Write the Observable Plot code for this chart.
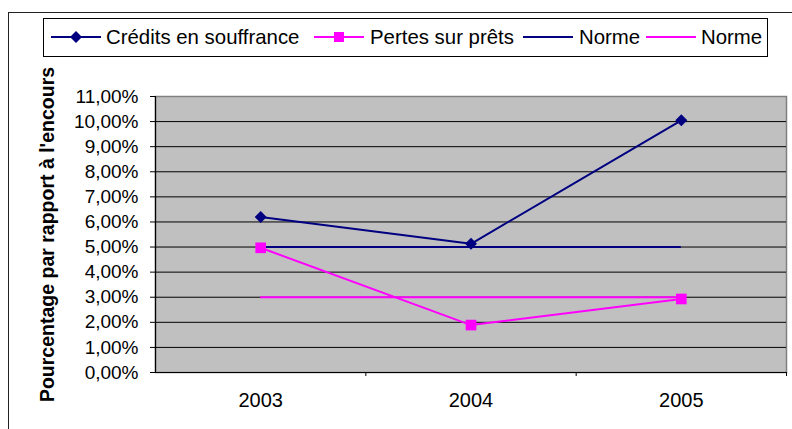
<!DOCTYPE html>
<html>
<head>
<meta charset="utf-8">
<script src="https://cdn.jsdelivr.net/npm/d3@7"></script>
<script src="https://cdn.jsdelivr.net/npm/@observablehq/plot@0.6"></script>
<style>
  html, body { margin: 0; padding: 0; background: #fff; overflow: hidden; }
  body { width: 792px; height: 429px; position: relative; font-family: "Liberation Sans", Arial, sans-serif; }
  #outer { position: absolute; left: 8px; top: 12px; width: 820px; height: 460px; border-left: 1.5px solid #222; border-top: 1.5px solid #222; }
  #legend { position: absolute; left: 43px; top: 18px; width: 723px; height: 37px; border: 1px solid #000; background: #fff; }
  .sw { position: absolute; top: 8px; }
  .lt { position: absolute; top: 7px; font-size: 20.4px; line-height: 22px; color: #000; white-space: nowrap; }
  #chart { position: absolute; left: 0; top: 60px; }
  #chart svg { overflow: visible; }
</style>
</head>
<body>
<div id="outer"></div>
<div id="legend"></div>
<div id="chart"></div>
<script>
const years = [2003, 2004, 2005];
const xLabels = ["2003", "2004", "2005"];
const credits = [6.2, 5.13, 10.05];
const pertes = [4.97, 1.89, 2.93];
const normeCredits = 5;
const normePertes = 3;
const yTicks = [0, 1, 2, 3, 4, 5, 6, 7, 8, 9, 10, 11];
const seriesNames = ["Crédits en souffrance", "Pertes sur prêts", "Norme", "Norme"];
const yTitle = "Pourcentage par rapport à l'encours";

const navy = "#000080";
const magenta = "#ff00ff";

// Legend (HTML above the SVG)
const legend = document.getElementById("legend");
const legendItems = [
  {name: seriesNames[0], color: navy, marker: "diamond", swLeft: 7, txtLeft: 62},
  {name: seriesNames[1], color: magenta, marker: "square", swLeft: 270, txtLeft: 326},
  {name: seriesNames[2], color: navy, marker: null, swLeft: 479, txtLeft: 535},
  {name: seriesNames[3], color: magenta, marker: null, swLeft: 602, txtLeft: 657}
];
for (const it of legendItems) {
  const sw = document.createElementNS("http://www.w3.org/2000/svg", "svg");
  sw.setAttribute("width", 50); sw.setAttribute("height", 20);
  sw.setAttribute("class", "sw");
  sw.style.left = it.swLeft + "px";
  let inner = `<line x1="0" x2="50" y1="10" y2="10" stroke="${it.color}" stroke-width="2"/>`;
  if (it.marker === "diamond") inner += `<path d="M25,4L31,10L25,16L19,10Z" fill="${it.color}"/>`;
  if (it.marker === "square") inner += `<rect x="20" y="5" width="10" height="10" fill="${it.color}"/>`;
  sw.innerHTML = inner;
  legend.appendChild(sw);
  const t = document.createElement("div");
  t.className = "lt";
  t.style.left = it.txtLeft + "px";
  t.textContent = it.name;
  legend.appendChild(t);
}

const fmt = d => d.toFixed(2).replace(".", ",") + "%";
const xDomain = [years[0] - 0.5, years[years.length - 1] + 0.5];

const chart = Plot.plot({
  width: 792,
  height: 369,
  marginLeft: 155,
  marginRight: 6,
  marginTop: 36,
  marginBottom: 57,
  x: {domain: xDomain},
  y: {domain: [yTicks[0], yTicks[yTicks.length - 1]]},
  style: {fontFamily: "'Liberation Sans', Arial, sans-serif", background: "transparent", color: "#000"},
  marks: [
    Plot.frame({fill: "#c0c0c0", stroke: "#808080", strokeWidth: 1.5}),
    Plot.ruleY(yTicks.slice(1, -1), {stroke: "#000", strokeWidth: 1}),
    Plot.ruleX([xDomain[0]], {stroke: "#000", strokeWidth: 1.2}),
    Plot.ruleY([yTicks[0]], {stroke: "#000", strokeWidth: 1.2}),
    Plot.axisY({ticks: yTicks, tickSize: 5, tickPadding: 12, fontSize: 19, tickFormat: fmt, label: null}),
    Plot.axisX({ticks: years.map(y => y + 0.5), tickSize: 4, tickFormat: () => "", label: null}),
    Plot.axisX({ticks: years, tickSize: 0, tickPadding: 20, fontSize: 20, tickFormat: d => xLabels[years.indexOf(d)], label: null}),
    Plot.ruleY([normeCredits], {x1: years[0], x2: years[years.length - 1], stroke: navy, strokeWidth: 2}),
    Plot.ruleY([normePertes], {x1: years[0], x2: years[years.length - 1], stroke: magenta, strokeWidth: 2}),
    Plot.line(years, {x: d => d, y: (d, i) => pertes[i], stroke: magenta, strokeWidth: 2}),
    Plot.dot(years, {x: d => d, y: (d, i) => pertes[i], symbol: "square", r: 6, fill: magenta, stroke: "none"}),
    Plot.line(years, {x: d => d, y: (d, i) => credits[i], stroke: navy, strokeWidth: 2}),
    Plot.dot(years, {x: d => d, y: (d, i) => credits[i], symbol: "diamond2", r: 5.4, fill: navy, stroke: "none"}),
    Plot.text([yTitle], {frameAnchor: "left", textAnchor: "middle", dx: -108, rotate: -90, fontSize: 19.5, fontWeight: "bold", fill: "#000"})
  ]
});
document.getElementById("chart").appendChild(chart);
</script>
</body>
</html>
